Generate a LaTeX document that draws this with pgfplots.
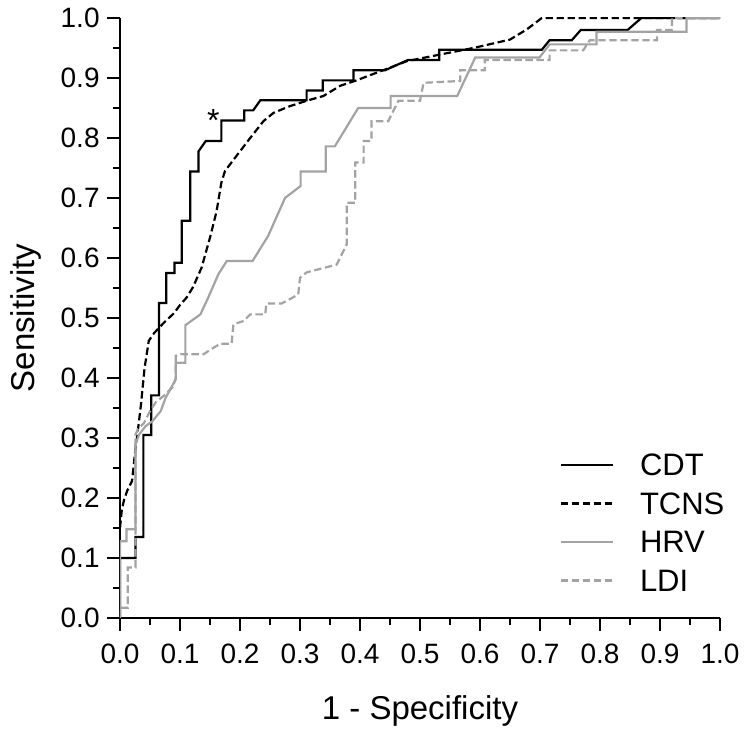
\documentclass[border=0pt]{standalone}
\usepackage{fontspec}
\setmainfont{Liberation Sans}
\usepackage{pgfplots}
\pgfplotsset{compat=1.18}
\definecolor{lgray}{RGB}{163,163,163}
\begin{document}
\begin{tikzpicture}
\begin{axis}[
  scale only axis, width=300pt, height=300pt,
  xmin=0, xmax=1, ymin=0, ymax=1,
  axis x line*=bottom, axis y line*=left,
  axis line style={-, line width=1pt, black},
  xtick={0,0.1,0.2,0.3,0.4,0.5,0.6,0.7,0.8,0.9,1.0},
  ytick={0,0.1,0.2,0.3,0.4,0.5,0.6,0.7,0.8,0.9,1.0},
  minor x tick num=1, minor y tick num=1,
  tick align=outside,
  major tick length=6.5pt, minor tick length=3.5pt,
  every tick/.style={black, line width=1pt},
  /pgf/number format/assume math mode=true,
  /pgf/number format/.cd, fixed, fixed zerofill, precision=1, /pgfplots/.cd,
  tick label style={font=\fontsize{14}{16}\selectfont},
  xticklabel style={anchor=north, inner sep=0pt, yshift=-6.5pt},
  yticklabel style={anchor=east, inner sep=0pt, xshift=-3.5pt},
  xlabel={1 - Specificity},
  ylabel={Sensitivity},
  label style={font=\fontsize{16.5}{19}\selectfont},
  xlabel style={at={(axis description cs:0.5,0)}, anchor=base, inner sep=0pt, yshift=-50.5pt},
  ylabel style={at={(axis description cs:0,0.5)}, anchor=base, inner sep=0pt, yshift=42.5pt},
  legend cell align=left,
  legend image code/.code={\draw[#1, line width=1.1pt] (0pt,0pt) -- (26pt,0pt);},
  legend style={draw=none, fill=none, inner sep=0pt, outer sep=0pt,
    row sep=4.5pt, column sep=13pt,
    nodes={inner sep=0pt, text height=12.7pt, text depth=2pt, font=\fontsize{15.5}{18}\selectfont},
    at={(rel axis cs:0.733,0.258)}, anchor=north west, yshift=6.35pt},
]
\addplot[black, line width=1.1pt] coordinates {
(0,0) (0,0.1) (0.026,0.1) (0.026,0.135) (0.039,0.135) (0.039,0.305) (0.052,0.305) (0.052,0.371)
(0.065,0.371) (0.065,0.525) (0.077,0.525) (0.077,0.575) (0.091,0.575) (0.091,0.592) (0.103,0.592)
(0.103,0.662) (0.117,0.662) (0.117,0.744) (0.131,0.744) (0.131,0.778) (0.143,0.795) (0.169,0.795)
(0.169,0.829) (0.207,0.829) (0.207,0.846) (0.222,0.846) (0.234,0.863) (0.311,0.863) (0.311,0.879)
(0.338,0.879) (0.338,0.896) (0.389,0.896) (0.389,0.913) (0.442,0.913) (0.480,0.930) (0.532,0.930)
(0.532,0.947) (0.703,0.947) (0.716,0.963) (0.753,0.963) (0.768,0.980) (0.846,0.980) (0.869,1.0) (1,1)
};
\addlegendentry{CDT}
\addplot[black, line width=1.1pt, dash pattern=on 3.7pt off 1.8pt] coordinates {
(0,0.15) (0.003,0.18) (0.007,0.198) (0.012,0.212) (0.02,0.228) (0.026,0.284) (0.029,0.306)
(0.035,0.356) (0.041,0.417) (0.048,0.462) (0.057,0.475) (0.073,0.492) (0.09,0.508) (0.101,0.523)
(0.111,0.534) (0.122,0.552) (0.136,0.584) (0.15,0.634) (0.161,0.678) (0.169,0.726) (0.175,0.745)
(0.194,0.77) (0.217,0.80) (0.239,0.828) (0.256,0.842) (0.283,0.853) (0.311,0.862) (0.339,0.870)
(0.367,0.887) (0.394,0.896) (0.444,0.915) (0.478,0.928) (0.533,0.939) (0.589,0.95) (0.65,0.964)
(0.678,0.981) (0.703,1.0) (1,1)
};
\addlegendentry{TCNS}
\addplot[lgray, line width=1.1pt] coordinates {
(0,0) (0,0.128) (0.011,0.128) (0.011,0.148) (0.026,0.148) (0.026,0.29) (0.032,0.306) (0.043,0.32)
(0.054,0.328) (0.068,0.345) (0.076,0.367) (0.087,0.387) (0.093,0.398) (0.093,0.4255) (0.109,0.4255)
(0.109,0.488) (0.134,0.506) (0.147,0.534) (0.164,0.573) (0.178,0.595) (0.221,0.595) (0.247,0.637)
(0.275,0.70) (0.301,0.72) (0.301,0.744) (0.343,0.744) (0.343,0.786) (0.358,0.786) (0.397,0.85)
(0.451,0.85) (0.451,0.87) (0.562,0.87) (0.592,0.934) (0.699,0.934) (0.716,0.956) (0.794,0.956)
(0.794,0.977) (0.944,0.977) (0.944,1.0) (1,1)
};
\addlegendentry{HRV}
\addplot[lgray, line width=1.1pt, dash pattern=on 3.7pt off 1.8pt] coordinates {
(0,0) (0,0.017) (0.013,0.017) (0.013,0.084) (0.026,0.084) (0.026,0.306) (0.03,0.315) (0.04,0.325)
(0.05,0.345) (0.06,0.36) (0.075,0.372) (0.088,0.385) (0.093,0.40) (0.093,0.437) (0.101,0.4395)
(0.139,0.4395) (0.156,0.4505) (0.167,0.457) (0.186,0.457) (0.189,0.4895) (0.206,0.495) (0.217,0.506)
(0.242,0.506) (0.244,0.524) (0.269,0.524) (0.297,0.539) (0.3,0.567) (0.311,0.576) (0.361,0.589)
(0.378,0.623) (0.378,0.692) (0.392,0.692) (0.392,0.759) (0.406,0.759) (0.406,0.795) (0.419,0.795)
(0.419,0.828) (0.447,0.828) (0.464,0.862) (0.5,0.862) (0.506,0.892) (0.567,0.895) (0.567,0.913)
(0.608,0.913) (0.608,0.93) (0.716,0.93) (0.716,0.946) (0.772,0.946) (0.783,0.963) (0.895,0.963)
(0.895,0.98) (0.92,0.98) (0.92,1.0) (1,1)
};
\addlegendentry{LDI}
\node[anchor=base, inner sep=0pt, font=\fontsize{16}{18}\selectfont] at (axis cs:0.1556,0.8105) {*};
\end{axis}
\pgfresetboundingbox
\path[use as bounding box] ([xshift=-60pt,yshift=-57.5pt]current axis.south west) rectangle ([xshift=12pt,yshift=9pt]current axis.north east);
\end{tikzpicture}
\end{document}
